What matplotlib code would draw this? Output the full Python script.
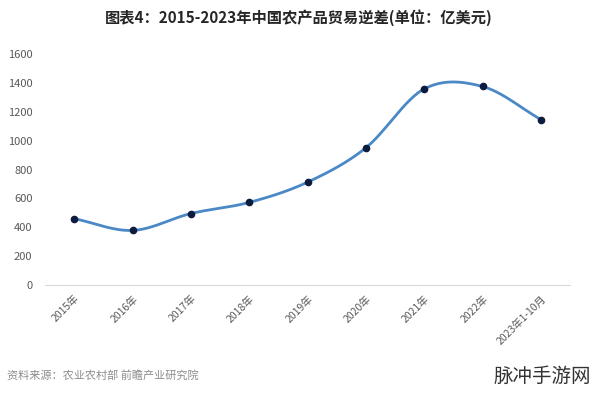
# 2015-2023 China agricultural trade deficit

import numpy as np
import matplotlib.pyplot as plt

plt.rcParams['font.family'] = ['Noto Sans CJK SC', 'DejaVu Sans']

# data (unit: 100 million USD)
years = ['2015年', '2016年', '2017年', '2018年', '2019年', '2020年',
         '2021年', '2022年', '2023年1-10月']
deficit = [460, 378, 495, 572, 712, 950, 1358, 1375, 1146]
yticks = [0, 200, 400, 600, 800, 1000, 1200, 1400, 1600]


def smooth(x, y, n=30):
    # catmull-rom style curve through the points, like excel's smoothed line
    x = np.asarray(x, float)
    y = np.asarray(y, float)
    px = np.concatenate([[2*x[0]-x[1]], x, [2*x[-1]-x[-2]]])
    py = np.concatenate([[2*y[0]-y[1]], y, [2*y[-1]-y[-2]]])
    xs, ys = [], []
    t = np.linspace(0, 1, n)
    for i in range(1, len(px)-2):
        for p, out in ((px, xs), (py, ys)):
            p0, p1, p2, p3 = p[i-1], p[i], p[i+1], p[i+2]
            out.extend(0.5*((2*p1) + (-p0+p2)*t + (2*p0-5*p1+4*p2-p3)*t**2
                            + (-p0+3*p1-3*p2+p3)*t**3))
    return np.array(xs), np.array(ys)


fig = plt.figure(figsize=(5.97, 3.94), dpi=100)
ax = fig.add_axes([45/597, 109/394, 525/597, 231/394])

idx = np.arange(len(years))
sx, sy = smooth(idx, deficit)
ax.plot(sx, sy, color='#4a88c6', lw=2, zorder=2)
ax.plot(idx, deficit, 'o', color='#0d1b3e', ms=4.5, zorder=3)

ax.set_xlim(-0.5, len(years)-0.5)
ax.set_ylim(0, 1600)
ax.set_yticks(yticks)
ax.set_xticks(idx)
ax.set_xticklabels(years, rotation=45, ha='right', rotation_mode='anchor',
                   fontsize=7.5, color='#595959')
ax.tick_params(axis='y', labelsize=8, labelcolor='#595959', length=0, pad=9)
ax.tick_params(axis='x', length=0, pad=6)
for s in ['top', 'right', 'left']:
    ax.spines[s].set_visible(False)
ax.spines['bottom'].set_color('#d9d9d9')

fig.text(0.5, 0.955, '图表4：2015-2023年中国农产品贸易逆差(单位：亿美元)',
         ha='center', va='center', fontsize=11, fontweight='bold', color='#262626')
fig.text(0.012, 0.048, '资料来源：农业农村部 前瞻产业研究院',
         ha='left', va='center', fontsize=8, color='#8c8c8c')
fig.text(0.99, 0.045, '脉冲手游网', ha='right', va='center',
         fontsize=14, color='#333333')

fig.savefig('out.png', dpi=100)
